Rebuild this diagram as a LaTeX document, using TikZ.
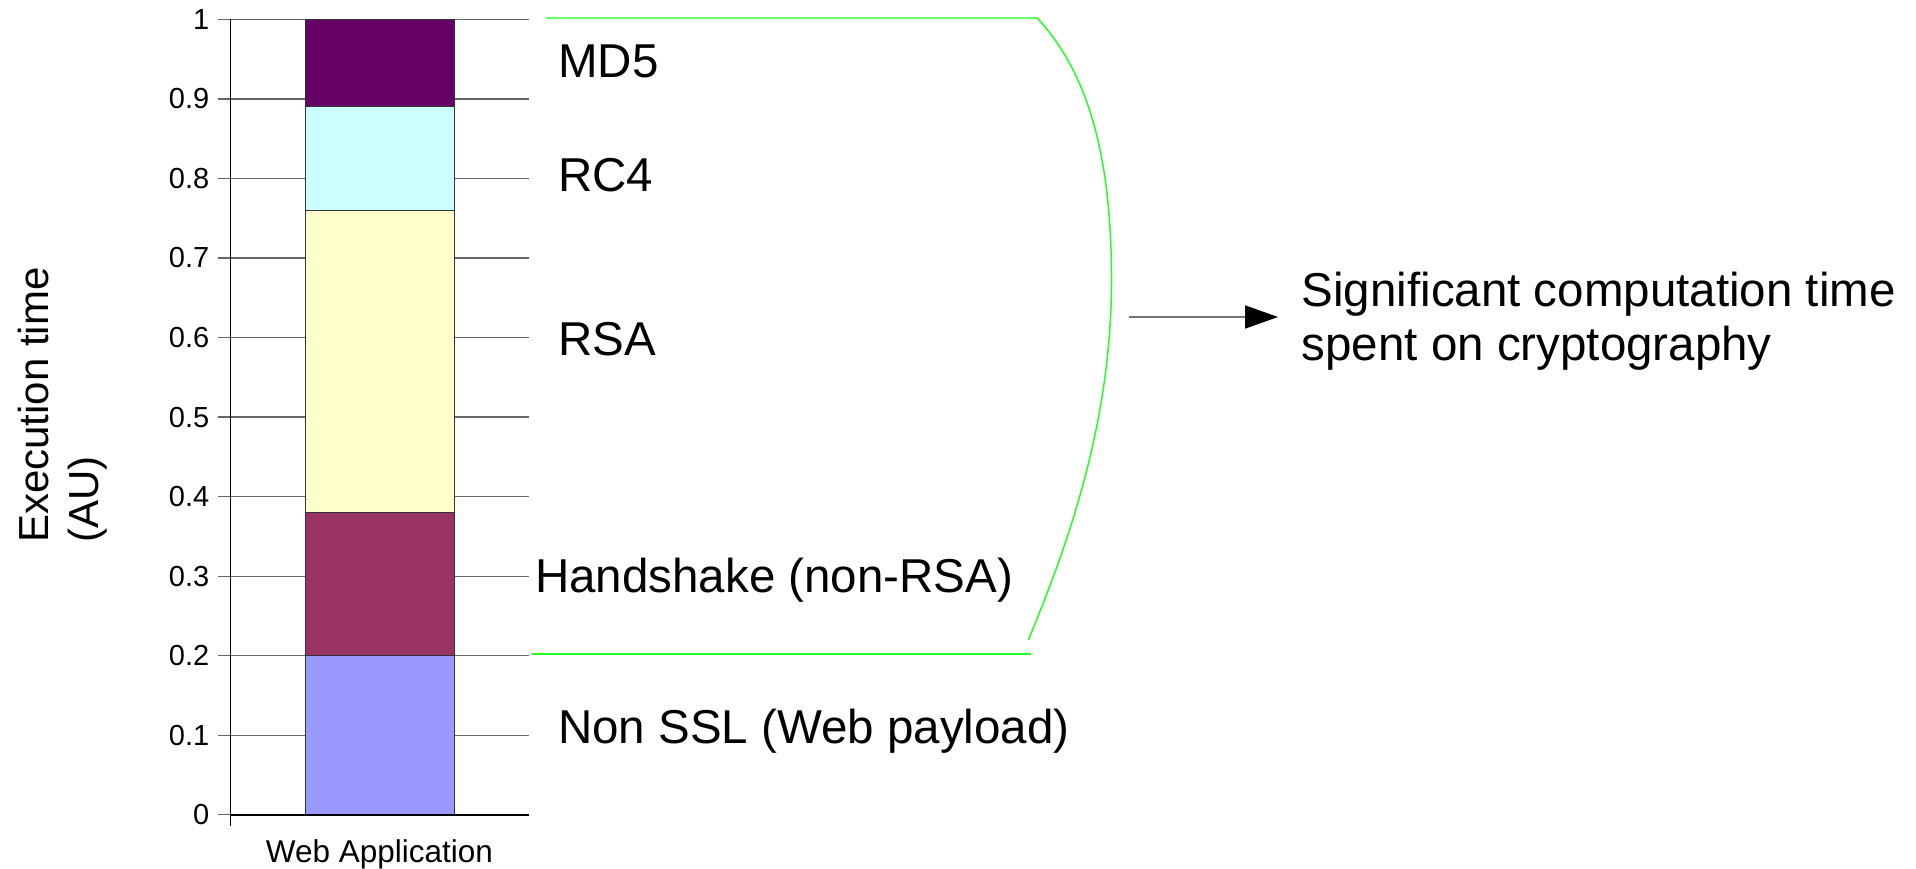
\documentclass[tikz,border=0pt]{standalone}
\usepackage{fontspec}
\setmainfont{Liberation Sans}
\usetikzlibrary{arrows.meta}

\definecolor{cMD}{HTML}{660066}
\definecolor{cRC}{HTML}{CCFFFF}
\definecolor{cRSA}{HTML}{FFFFCC}
\definecolor{cHS}{HTML}{993366}
\definecolor{cNS}{HTML}{9999FF}
\definecolor{brL}{HTML}{66FF66}
\definecolor{brG}{HTML}{22FF22}

\begin{document}
\begin{tikzpicture}[x=1pt,y=-1pt,
  declare function={yv(\v)=19.3+(1-\v)*795.5;},
  gridln/.style={black!60,line width=1.2pt},
  seg/.style={draw=black!80,line width=1pt},
  ticklbl/.style={anchor=east,inner sep=0pt,font=\fontsize{29}{34}\selectfont},
  lbl/.style={anchor=base west,inner sep=0pt,font=\fontsize{47.5}{54}\selectfont},
  axlbl/.style={anchor=base west,inner sep=0pt,rotate=90,font=\fontsize{42}{50}\selectfont},
  catlbl/.style={anchor=base,inner sep=0pt,font=\fontsize{31.5}{36}\selectfont},
  brace/.style={line width=1.5pt},
  pointer/.style={black!55,line width=1.6pt,-{Triangle[length=33pt,width=23pt,color=black]}}
]
\useasboundingbox (0,0) rectangle (1916,869);

% horizontal grid lines with left tick marks
\foreach \v in {0.1,0.2,...,1.0}
  \draw[gridln] (218,{yv(\v)}) -- (528.7,{yv(\v)});
\draw[gridln] (218,{yv(0)}) -- (231,{yv(0)});

% stacked bar
\path[seg,fill=cNS]  (305,{yv(0)})    rectangle (454.3,{yv(0.2)});
\path[seg,fill=cHS]  (305,{yv(0.2)})  rectangle (454.3,{yv(0.38)});
\path[seg,fill=cRSA] (305,{yv(0.38)}) rectangle (454.3,{yv(0.76)});
\path[seg,fill=cRC]  (305,{yv(0.76)}) rectangle (454.3,{yv(0.89)});
\path[seg,fill=cMD]  (305,{yv(0.89)}) rectangle (454.3,{yv(1)});

% axes
\draw[black,line width=1.6pt] (231,{yv(0)}) -- (528.7,{yv(0)});
\draw[black,line width=1.5pt] (230.7,{yv(1)}) -- (230.7,826);

% tick labels
\foreach \v/\t in {0/0,0.1/0.1,0.2/0.2,0.3/0.3,0.4/0.4,0.5/0.5,0.6/0.6,0.7/0.7,0.8/0.8,0.9/0.9,1/1}
  \node[ticklbl] (t\t) at (209.5,{yv(\v)}) {\t};

% axis titles
\node[axlbl] (ytitle) at (48,543) {Execution time};
\node[axlbl] (yunit)  at (98,543) {(AU)};
\node[catlbl] (cat) at (379.5,862) {Web Application};

% segment labels
\node[lbl] (lmd)  at (558,78)  {MD5};
\node[lbl] (lrc)  at (558,192) {RC4};
\node[lbl] (lrsa) at (558,355) {RSA};
\node[lbl] (lhs)  at (535,592) {Handshake (non-RSA)};
\node[lbl] (lns)  at (558,743) {Non SSL (Web payload)};

% bracket around the cryptographic share
\coordinate (btl) at (546,17.7);
\coordinate (btr) at (1037,17.7);
\coordinate (bmid) at (1111.5,280);
\coordinate (bend) at (1028.3,640);
\coordinate (bbl) at (532,654);
\coordinate (bbr) at (1030.7,654);
\draw[brL,line width=2pt] (btl) -- (btr);
\draw[brG,brace] (btr) .. controls (1090,75) and (1111.5,160) .. (bmid)
                       .. controls (1111.5,420) and (1070,540) .. (bend);
\draw[brG,brace] (bbl) -- (bbr);

% conclusion
\coordinate (astart) at (1129,317);
\coordinate (aend) at (1278,317);
\draw[pointer] (astart) -- (aend);
\node[lbl] (sig1) at (1301.5,306.7) {Significant computation time};
\node[lbl] (sig2) at (1301.5,360.7) {spent on cryptography};
\end{tikzpicture}
\end{document}
